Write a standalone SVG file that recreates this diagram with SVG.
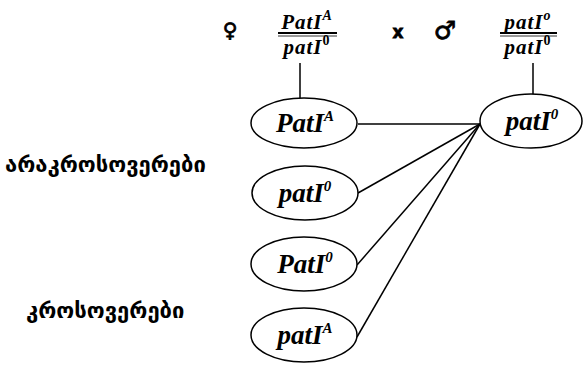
<svg xmlns="http://www.w3.org/2000/svg" width="583" height="365" viewBox="0 0 583 365">
<style>
.bg{fill:#fff}
.node ellipse{fill:#fff;stroke:#000;stroke-width:1.5}
.lbl{font-family:"Liberation Serif",serif;font-weight:bold;font-style:italic;font-size:27px;fill:#000}
.sup{font-size:15px}
.frac{font-family:"Liberation Serif",serif;font-weight:bold;font-style:italic;font-size:21px;fill:#000;letter-spacing:1px}
.fsup{font-size:14px}
.up{font-style:normal}
.geo{font-family:"DejaVu Sans","Noto Sans",sans-serif;font-weight:bold;font-size:22px;fill:#000}
.sym{font-family:"DejaVu Sans",sans-serif;font-weight:bold;fill:#000;stroke:#000;stroke-width:0.8}
.conn line{stroke:#000;stroke-width:1.5}
</style>
<rect class="bg" width="583" height="365"/>
<g id="cross">
<text class="sym" x="230" y="37" font-size="20" text-anchor="middle">♀</text>
<text class="sym" x="398" y="38" font-size="17" text-anchor="middle" stroke-width="0.3">x</text>
<text class="sym" x="445" y="39" font-size="25" text-anchor="middle">♂</text>
</g>
<g id="female-genotype">
<text class="frac" x="307" y="29" text-anchor="middle">PatI<tspan class="fsup" dy="-9">A</tspan></text>
<line x1="278" y1="33" x2="337" y2="33" stroke="#000" stroke-width="2"/>
<line x1="278" y1="36" x2="337" y2="36" stroke="#000" stroke-width="0.8"/>
<text class="frac" x="307" y="54" text-anchor="middle">patI<tspan class="fsup up" dy="-9">0</tspan></text>
</g>
<g id="male-genotype">
<text class="frac" x="528" y="29" text-anchor="middle">patI<tspan class="fsup" dy="-9">o</tspan></text>
<line x1="500" y1="33" x2="557" y2="33" stroke="#000" stroke-width="2"/>
<line x1="500" y1="36" x2="557" y2="36" stroke="#000" stroke-width="0.8"/>
<text class="frac" x="528" y="54" text-anchor="middle">patI<tspan class="fsup up" dy="-9">0</tspan></text>
</g>
<g id="labels">
<text class="geo" x="5" y="172">არაკროსოვერები</text>
<text class="geo" x="26" y="318">კროსოვერები</text>
</g>
<g class="conn" id="connectors">
<line x1="300" y1="63" x2="300" y2="98"/>
<line x1="533" y1="63" x2="533" y2="95"/>
<line x1="358" y1="124" x2="480" y2="124"/>
<line x1="358" y1="193" x2="480" y2="124"/>
<line x1="357" y1="265" x2="480" y2="124"/>
<line x1="357" y1="337" x2="480" y2="124"/>
</g>
<g class="node" id="n-PatIA">
<ellipse cx="304" cy="123" rx="53" ry="25"/>
<text class="lbl" x="305" y="132" text-anchor="middle">PatI<tspan class="sup" dy="-11">A</tspan></text>
</g>
<g class="node" id="n-patI0-right">
<ellipse cx="531" cy="121" rx="51" ry="27"/>
<text class="lbl" x="532" y="130" text-anchor="middle">patI<tspan class="sup" dy="-11">0</tspan></text>
</g>
<g class="node" id="n-patI0">
<ellipse cx="305" cy="193" rx="53" ry="27"/>
<text class="lbl" x="305" y="202" text-anchor="middle">patI<tspan class="sup" dy="-11">0</tspan></text>
</g>
<g class="node" id="n-PatI0">
<ellipse cx="304" cy="264" rx="53" ry="27"/>
<text class="lbl" x="305" y="273" text-anchor="middle">PatI<tspan class="sup" dy="-11">0</tspan></text>
</g>
<g class="node" id="n-patIA">
<ellipse cx="304" cy="335" rx="53" ry="27"/>
<text class="lbl" x="305" y="344" text-anchor="middle">patI<tspan class="sup" dy="-11">A</tspan></text>
</g>
</svg>
